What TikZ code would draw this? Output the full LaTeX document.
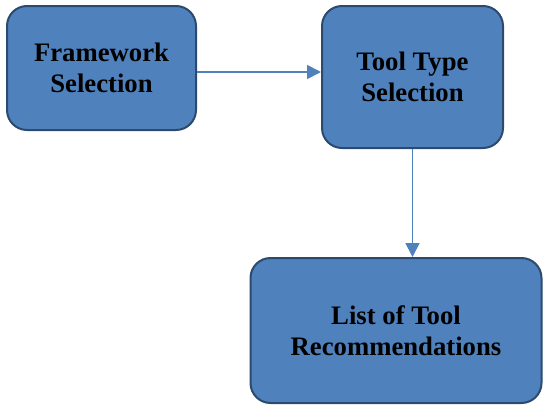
\documentclass[tikz,border=0pt]{standalone}
\usepackage{fontspec}
\setmainfont{Liberation Serif}
\usetikzlibrary{arrows.meta}
\definecolor{boxfill}{HTML}{4F81BD}
\definecolor{boxline}{HTML}{2C4A6E}
\definecolor{linkblue}{HTML}{4F81BD}
\tikzset{
  stagebox/.style={draw=boxline, line width=2pt, fill=boxfill, rounded corners=20pt,
    align=center, font=\fontsize{26.7}{31}\selectfont\bfseries, text=black, inner sep=0pt},
  link/.style={draw=linkblue, line width=1.8pt, -{Triangle[width=14pt,length=14pt]}}
}
\begin{document}
\begin{tikzpicture}[x=1pt,y=-1pt]
  \useasboundingbox (0,0) rectangle (543,407);
  \node[stagebox, minimum width=189pt, minimum height=124pt] (frame) at (101.5,68) {Framework\\Selection};
  \node[stagebox, minimum width=181pt, minimum height=142pt] (tooltype) at (412.5,77) {Tool Type\\Selection};
  \node[stagebox, minimum width=291pt, minimum height=145pt] (recs) at (396,330.5) {List of Tool\\Recommendations};
  \draw[link] ([yshift=-4pt]frame.east) -- ([yshift=5pt]tooltype.west);
  \draw[link] (tooltype.south) -- (tooltype.south |- recs.north);
\end{tikzpicture}
\end{document}
